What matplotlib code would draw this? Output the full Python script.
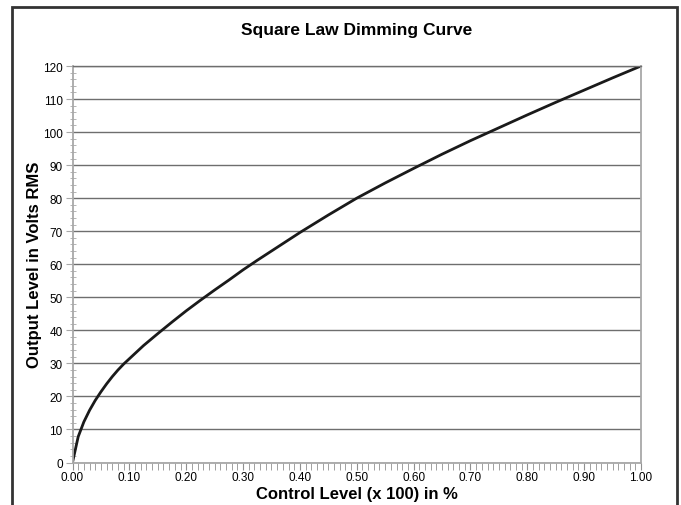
import matplotlib
matplotlib.use("Agg")
import matplotlib.pyplot as plt
from matplotlib.ticker import MultipleLocator, FormatStrFormatter
from matplotlib.patches import Rectangle

control_level = [0.00, 0.01, 0.02, 0.03, 0.04, 0.05, 0.06, 0.07, 0.08, 0.09,
                 0.10, 0.125, 0.15, 0.175, 0.20, 0.225, 0.25, 0.275, 0.30, 0.325,
                 0.35, 0.375, 0.40, 0.45, 0.50, 0.55, 0.60, 0.65, 0.70,
                 0.75, 0.80, 0.85, 0.90, 0.95, 1.00]
output_volts = [0.0, 7.8, 12.3, 15.8, 18.8, 21.4, 23.8, 26.0, 28.0, 29.8,
                31.4, 35.4, 39.0, 42.5, 45.9, 49.1, 52.2, 55.2, 58.3, 61.2,
                64.0, 66.8, 69.6, 74.9, 80.0, 84.6, 89.0, 93.3, 97.4,
                101.3, 105.2, 109.0, 112.7, 116.4, 120.0]

title = "Square Law Dimming Curve"
xlabel = "Control Level (x 100) in %"
ylabel = "Output Level in Volts RMS"

plt.rcParams['font.family'] = ['Liberation Sans', 'DejaVu Sans']

W, H = 681, 506
fig = plt.figure(figsize=(W / 100, H / 100), dpi=100)

# outer frame
fig.patches.append(Rectangle((12 / W, -0.05), (677 - 12) / W, (H - 8) / H + 0.05,
                             transform=fig.transFigure, fill=False,
                             edgecolor='#333333', linewidth=2.0))

left, right, top, bottom = 72.5, 641, 67, 463.5
ax = fig.add_axes([left / W, (H - bottom) / H, (right - left) / W, (bottom - top) / H])

ax.plot(control_level, output_volts, color='#1a1a1a', linewidth=2.0,
        solid_capstyle='round', solid_joinstyle='round')

ax.set_xlim(0, 1.0)
ax.set_ylim(0, 120)
ax.xaxis.set_major_locator(MultipleLocator(0.1))
ax.xaxis.set_minor_locator(MultipleLocator(0.01))
ax.xaxis.set_major_formatter(FormatStrFormatter('%.2f'))
ax.yaxis.set_major_locator(MultipleLocator(10))
ax.yaxis.set_minor_locator(MultipleLocator(2))

ax.grid(axis='y', which='major', color='#6e6e6e', linewidth=1.0)
ax.set_axisbelow(True)

for side in ['left', 'bottom', 'right']:
    ax.spines[side].set_color('#a8a8a8')
    ax.spines[side].set_linewidth(1.3)
ax.spines['top'].set_color('#6e6e6e')
ax.spines['top'].set_linewidth(1.0)

ax.tick_params(axis='y', which='major', direction='out', length=5, color='#a8a8a8',
               labelsize=8.5, pad=2)
ax.tick_params(axis='y', which='minor', direction='inout', length=4, color='#a8a8a8')
ax.tick_params(axis='x', which='both', direction='out', length=5, color='#909090',
               labelsize=8.5, pad=1)

ax.set_title(title, fontsize=12.5, fontweight='bold', pad=23)
ax.set_xlabel(xlabel, fontsize=12, fontweight='bold', labelpad=2)
ax.set_ylabel(ylabel, fontsize=12, fontweight='bold', labelpad=1)

fig.savefig('out.png', dpi=100)
